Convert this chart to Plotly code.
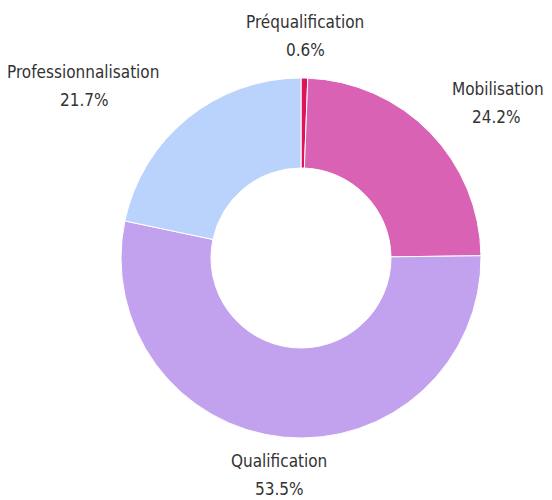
import glob
import numpy as np
import plotly.graph_objects as go

labels = ["Préqualification", "Mobilisation", "Qualification", "Professionnalisation"]
values = [0.6, 24.2, 53.5, 21.7]
colors = ["#dc1459", "#da62b4", "#c2a2ee", "#bad3fd"]

W, H = 552, 500
VIS_W = W - 8  # page body margin hides the last 8 px
VIS_H = H - 8
dom_x = [0.2047, 0.8569]
dom_y = [0.14, 0.86]
FONT = "DejaVu Sans Condensed, DejaVu Sans, sans-serif"
FSIZE = 17
TXT = "#333333"
LINE_GAP = 14

measure = None
try:
    from PIL import ImageFont
    paths = glob.glob("/usr/share/fonts/**/DejaVuSansCondensed.ttf", recursive=True)
    if paths:
        _f = ImageFont.truetype(paths[0], FSIZE)
        measure = lambda t: _f.getlength(t)
except Exception:
    measure = None
if measure is None:
    measure = lambda t: 0.5 * FSIZE * len(t)

fig = go.Figure(go.Pie(
    labels=labels,
    values=values,
    hole=0.5,
    sort=False,
    direction="clockwise",
    rotation=0,
    marker=dict(colors=colors, line=dict(color="white", width=1)),
    textinfo="none",
    domain=dict(x=dom_x, y=dom_y),
    showlegend=False,
    hoverinfo="label+percent",
))

vals = np.array(values, dtype=float)
share = vals / vals.sum()
mid = (np.cumsum(share) - share / 2) * 2 * np.pi
cx = (dom_x[0] + dom_x[1]) / 2
cy = (dom_y[0] + dom_y[1]) / 2
R_px = (dom_x[1] - dom_x[0]) * W / 2
r_lab = R_px * 1.233

annotations = []
for lab, s, a in zip(labels, share, mid):
    sx, sy = np.sin(a), np.cos(a)
    x = cx + r_lab * sx / W
    y = cy + r_lab * sy / H
    if sx > 0.3:
        xa = "left"
    elif sx < -0.3:
        xa = "right"
    else:
        xa = "center"
    pct = f"{s * 100:.1f}%"
    wl = measure(lab)
    ax_px = x * W
    shift = 0.0
    if xa == "left" and ax_px + wl > VIS_W - 10:
        shift = (VIS_W - 10) - (ax_px + wl)
    if xa == "right" and ax_px - wl < 0:
        shift = -(ax_px - wl)
    ay_px = (1 - y) * H
    vshift = 0.0
    if ay_px + LINE_GAP > VIS_H - 11:
        vshift = ay_px + LINE_GAP - (VIS_H - 11)
    xs = {"left": wl / 2, "right": -wl / 2, "center": 0}[xa]
    annotations.append(dict(
        x=x, y=y, xref="paper", yref="paper", xanchor=xa, yanchor="middle",
        yshift=LINE_GAP + vshift, xshift=shift, text=lab, showarrow=False, align="center",
        font=dict(family=FONT, size=FSIZE, color=TXT)))
    annotations.append(dict(
        x=x, y=y, xref="paper", yref="paper", xanchor="center", yanchor="middle",
        yshift=-LINE_GAP + vshift, xshift=xs + shift, text=pct, showarrow=False,
        font=dict(family=FONT, size=FSIZE, color=TXT)))

fig.update_layout(
    width=W, height=H,
    margin=dict(l=0, r=0, t=0, b=0),
    paper_bgcolor="white",
    plot_bgcolor="white",
    annotations=annotations,
)
fig.write_html("out.html")
